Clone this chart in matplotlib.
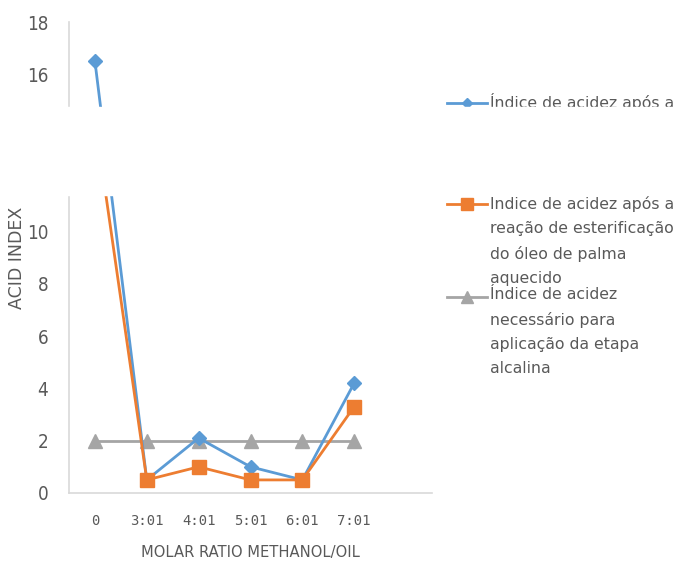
import matplotlib.pyplot as plt
from matplotlib.lines import Line2D
from matplotlib.patches import Rectangle

ratios = ["0", "3:01", "4:01", "5:01", "6:01", "7:01", ""]
acid_not_heated = [16.5, 0.5, 2.1, 1.0, 0.5, 4.2]
acid_heated = [14.3, 0.5, 1.0, 0.5, 0.5, 3.3]
acid_required = [2, 2, 2, 2, 2, 2]

labels = [
    "Índice de acidez após a\nreação de esterificação\ndo óleo de palma não\naquecido",
    "Índice de acidez após a\nreação de esterificação\ndo óleo de palma\naquecido",
    "Índice de acidez\nnecessário para\naplicação da etapa\nalcalina",
]

blue = "#5B9BD5"
orange = "#ED7D31"
grey = "#A5A5A5"
text_grey = "#595959"

fig = plt.figure(figsize=(6.75, 5.67), dpi=100)
ax = fig.add_axes([69 / 675, 1 - 493 / 567, (432 - 69) / 675, (493 - 22) / 567])

x = list(range(len(acid_not_heated)))
ax.plot(x, acid_required, color=grey, lw=2, marker="^", ms=10, zorder=2)
ax.plot(x, acid_not_heated, color=blue, lw=2, marker="D", ms=7, zorder=3)
ax.plot(x, acid_heated, color=orange, lw=2, marker="s", ms=9.5, zorder=4)

ax.set_xlim(-0.5, len(ratios) - 0.5)
ax.set_ylim(0, 18)
ax.set_xticks(range(len(ratios)))
ax.set_xticklabels(ratios, family=["DejaVu Sans Mono"], fontsize=10, color=text_grey)
ax.set_yticks(range(0, 19, 2))
ax.set_yticklabels([str(v) for v in range(0, 19, 2)], family=["DejaVu Sans"],
                   stretch="condensed", fontsize=13.5, color=text_grey)
ax.tick_params(length=0)
ax.tick_params(axis="y", pad=15)
ax.tick_params(axis="x", pad=15)

for side in ["top", "right"]:
    ax.spines[side].set_visible(False)
for side in ["left", "bottom"]:
    ax.spines[side].set_color("#D9D9D9")
    ax.spines[side].set_linewidth(1.2)

ax.set_xlabel("MOLAR RATIO METHANOL/OIL", fontsize=11.8, stretch="condensed",
              color=text_grey, labelpad=12)
ax.set_ylabel("ACID INDEX", fontsize=12.5, color=text_grey)
ax.yaxis.set_label_coords(-(69 - 26) / 363, 0.5)

# legend drawn by hand so the key sits on the first line of each label
legend_rows = [103, 204, 297]
styles = [(blue, "D", 5), (orange, "s", 8), (grey, "^", 8)]
for row, (col, mk, size), lab in zip(legend_rows, styles, labels):
    yf = 1 - row / 567
    fig.add_artist(Line2D([447 / 675, 487 / 675], [yf, yf], color=col, lw=2,
                          transform=fig.transFigure))
    fig.add_artist(Line2D([467 / 675], [yf], color=col, marker=mk, ms=size,
                          transform=fig.transFigure))
    fig.text(490 / 675, yf + 10 / 567, lab, va="top", ha="left", fontsize=11.3,
             color=text_grey, linespacing=1.76)

# blank strip across the middle
fig.add_artist(Rectangle((0, 1 - 195 / 567), 1, (195 - 107) / 567, color="white",
                         transform=fig.transFigure, zorder=10))

fig.savefig("out.png", dpi=100)
